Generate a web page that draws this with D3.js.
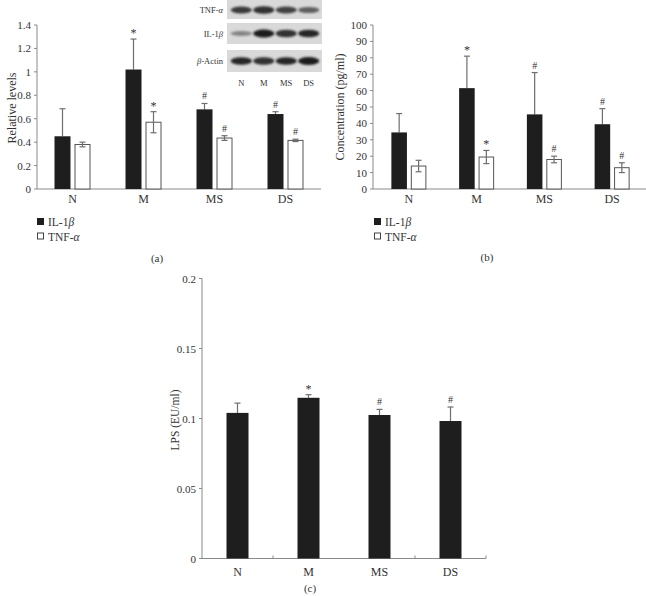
<!DOCTYPE html>
<html><head><meta charset="utf-8">
<script src="https://cdn.jsdelivr.net/npm/d3@7"></script>
<style>
body{margin:0;background:#fff;}
svg{display:block;}
text{font-family:"Liberation Serif","DejaVu Serif",serif;fill:#333;}
</style></head>
<body><svg id="c" width="646" height="596"></svg>
<script>
// ---------- data ----------
const categories = ["N","M","MS","DS"];
const seriesNames = ["IL-1β","TNF-α"];
// panel (a): relative levels (western blot)
const aIL1b = [0.45, 1.02, 0.68, 0.64];
const aIL1bErr = [0.235, 0.26, 0.05, 0.02];
const aTNF = [0.38, 0.57, 0.435, 0.415];
const aTNFErr = [0.02, 0.09, 0.02, 0.01];
const aIL1bMark = ["", "*", "#", "#"];
const aTNFMark = ["", "*", "#", "#"];
const aTicks = [0,0.2,0.4,0.6,0.8,1,1.2,1.4];
// panel (b): concentration (pg/ml)
const bIL1b = [34.5, 61.5, 45.5, 39.5];
const bIL1bErr = [11.5, 19.5, 25.5, 9.5];
const bTNF = [14, 19.5, 18, 13];
const bTNFErr = [3.5, 4, 2, 3];
const bIL1bMark = ["", "*", "#", "#"];
const bTNFMark = ["", "*", "#", "#"];
const bTicks = [0,10,20,30,40,50,60,70,80,90,100];
// panel (c): LPS (EU/ml)
const cLPS = [0.104, 0.1148, 0.1025, 0.0982];
const cLPSErr = [0.007, 0.0022, 0.004, 0.010];
const cMark = ["", "*", "#", "#"];
const cTicks = [0,0.05,0.1,0.15,0.2];
// western blot inset (relative band intensity / thickness)
const blotRows = ["TNF-α","IL-1β","β-Actin"];
const blotTNF = [0.85, 0.9, 0.8, 0.65];
const blotIL1b = [0.45, 1.0, 0.9, 0.95];
const blotActin = [0.95, 0.9, 0.95, 1.0];

const svg = d3.select("#c");
const AX = "#8a8a8a", ERR = "#6e6e6e", BAR = "#1e1e1e";

function greek(sel, name){
  const m = name.match(/^(.*?)([αβ])(.*)$/);
  if(!m){ sel.text(name); return; }
  if(m[1]) sel.append("tspan").text(m[1]);
  sel.append("tspan").attr("font-style","italic").text(m[2]);
  if(m[3]) sel.append("tspan").text(m[3]);
}

function yAxis(g, y, ticks, x0, fmt){
  g.append("line").attr("x1",x0).attr("x2",x0).attr("y1",y(ticks[0])).attr("y2",y(ticks[ticks.length-1])).attr("stroke",AX);
  ticks.forEach(t=>{
    g.append("line").attr("x1",x0-3).attr("x2",x0).attr("y1",y(t)).attr("y2",y(t)).attr("stroke",AX);
    g.append("text").attr("x",x0-6).attr("y",y(t)+4).attr("text-anchor","end").attr("font-size",11).text(fmt(t));
  });
}

function errBar(g, x, yTop, yBot, cap, both){
  g.append("line").attr("x1",x).attr("x2",x).attr("y1",yTop).attr("y2",yBot).attr("stroke",ERR).attr("stroke-width",1.2);
  g.append("line").attr("x1",x-cap).attr("x2",x+cap).attr("y1",yTop).attr("y2",yTop).attr("stroke",ERR).attr("stroke-width",1.2);
  if(both) g.append("line").attr("x1",x-cap).attr("x2",x+cap).attr("y1",yBot).attr("y2",yBot).attr("stroke",ERR).attr("stroke-width",1.2);
}

function mark(g, x, y, m){
  if(!m) return;
  g.append("text").attr("x",x).attr("y",m==="*"?y+1:y-1).attr("text-anchor","middle")
    .attr("font-size",m==="*"?12:10).attr("fill","#444").text(m);
}

function groupedPanel(opt){
  const g = svg.append("g");
  const x = d3.scaleBand().domain(categories).range(opt.xr).padding(0);
  const inner = d3.scaleBand().domain(seriesNames).range([-opt.gw/2, opt.gw/2]).paddingInner(0.2);
  const y = d3.scaleLinear().domain([0, opt.max]).range([opt.y0, opt.y1]);
  yAxis(g, y, opt.ticks, opt.axX, d=>String(d));
  g.append("line").attr("x1",opt.axX).attr("x2",opt.axEnd).attr("y1",opt.y0).attr("y2",opt.y0).attr("stroke",AX);
  const series = [
    {name:seriesNames[0], v:opt.s1, e:opt.e1, m:opt.m1, fill:BAR},
    {name:seriesNames[1], v:opt.s2, e:opt.e2, m:opt.m2, fill:"#fff"}
  ];
  series.forEach(s=>{
    categories.forEach((c,i)=>{
      const cx = x(c)+x.bandwidth()/2;
      const bx = cx + inner(s.name);
      const bw = inner.bandwidth();
      const mid = bx + bw/2;
      const top = y(s.v[i]+s.e[i]), bot = y(s.v[i]-s.e[i]);
      if(s.fill===BAR){
        errBar(g, mid, top, y(s.v[i]), 3, false);
        g.append("rect").attr("x",bx).attr("y",y(s.v[i])).attr("width",bw).attr("height",opt.y0-y(s.v[i])).attr("fill",BAR);
      } else {
        g.append("rect").attr("x",bx+0.5).attr("y",y(s.v[i])).attr("width",bw-1).attr("height",opt.y0-y(s.v[i])).attr("fill","#fff").attr("stroke","#555").attr("stroke-width",1);
        errBar(g, mid, top, bot, 3, true);
      }
      mark(g, mid, top-3, s.m[i]);
    });
  });
  categories.forEach(c=>{
    g.append("text").attr("x",x(c)+x.bandwidth()/2).attr("y",opt.y0+14).attr("text-anchor","middle").attr("font-size",12).text(c);
  });
  g.append("text").attr("transform",`translate(${opt.titleX},${opt.titleY}) rotate(-90)`).attr("text-anchor","middle").attr("font-size",12).text(opt.title);
  series.forEach((s,k)=>{
    const ly = opt.legY + k*14.5;
    g.append("rect").attr("x",opt.legX+0.5).attr("y",ly-3.5).attr("width",6).attr("height",6).attr("fill",s.fill).attr("stroke",s.fill===BAR?BAR:"#444").attr("stroke-width",1);
    const t = g.append("text").attr("x",opt.legX+11).attr("y",ly+4).attr("font-size",11.5);
    greek(t, s.name);
  });
  g.append("text").attr("x",opt.lblX).attr("y",opt.lblY).attr("text-anchor","middle").attr("font-size",11).text(opt.lbl);
}

groupedPanel({xr:[37,321], gw:36, axX:37, axEnd:321, y0:189, y1:25, max:1.4, ticks:aTicks,
  s1:aIL1b, e1:aIL1bErr, m1:aIL1bMark, s2:aTNF, e2:aTNFErr, m2:aTNFMark,
  title:"Relative levels", titleX:16, titleY:108, legX:37, legY:222, lbl:"(a)", lblX:157, lblY:262});

groupedPanel({xr:[375,646], gw:35, axX:373, axEnd:646, y0:189, y1:25, max:100, ticks:bTicks,
  s1:bIL1b, e1:bIL1bErr, m1:bIL1bMark, s2:bTNF, e2:bTNFErr, m2:bTNFMark,
  title:"Concentration (pg/ml)", titleX:344, titleY:107, legX:374, legY:222, lbl:"(b)", lblX:487, lblY:261});

// ---------- panel (c) ----------
(function(){
  const g = svg.append("g");
  const x = d3.scaleBand().domain(categories).range([202,486]).paddingInner(0.69).paddingOuter(0.345);
  const xb = d3.scaleBand().domain(categories).range([202,486]);
  const y = d3.scaleLinear().domain([0,0.2]).range([558.5,278.5]);
  yAxis(g, y, cTicks, 202, d=>String(d));
  g.append("line").attr("x1",202).attr("x2",486).attr("y1",y(0)).attr("y2",y(0)).attr("stroke",AX);
  categories.forEach((c,i)=>{
    if(i>0 && i!==2) g.append("line").attr("x1",xb(c)).attr("x2",xb(c)).attr("y1",y(0)).attr("y2",y(0)-3).attr("stroke",AX);
  });
  g.append("line").attr("x1",486).attr("x2",486).attr("y1",y(0)).attr("y2",y(0)-3).attr("stroke",AX);
  categories.forEach((c,i)=>{
    const mid = x(c)+x.bandwidth()/2;
    const top = y(cLPS[i]+cLPSErr[i]);
    errBar(g, mid, top, y(cLPS[i]), 3, false);
    g.append("rect").attr("x",x(c)).attr("y",y(cLPS[i])).attr("width",x.bandwidth()).attr("height",y(0)-y(cLPS[i])).attr("fill",BAR);
    mark(g, mid, top-3, cMark[i]);
    g.append("text").attr("x",mid).attr("y",y(0)+17).attr("text-anchor","middle").attr("font-size",12).text(c);
  });
  g.append("text").attr("transform","translate(179,420) rotate(-90)").attr("text-anchor","middle").attr("font-size",11.5).text("LPS (EU/ml)");
  g.append("text").attr("x",310).attr("y",592).attr("text-anchor","middle").attr("font-size",11).text("(c)");
})();

// ---------- western blot inset ----------
(function(){
  const g = svg.append("g");
  const defs = svg.append("defs");
  defs.append("filter").attr("id","blur").attr("x","-20%").attr("y","-100%").attr("width","140%").attr("height","300%")
    .append("feGaussianBlur").attr("stdDeviation",1.1);
  const lx = d3.scaleBand().domain(categories).range([229,321]).padding(0.1);
  const shade = v => { const k = Math.round(215 - v*185); return d3.rgb(k,k,k).toString(); };
  const rows = [{name:blotRows[0], y0:0, y1:19, v:blotTNF, yc:10},
                {name:blotRows[1], y0:23, y1:44, v:blotIL1b, yc:33.5},
                {name:blotRows[2], y0:50, y1:72, v:blotActin, yc:61}];
  rows.forEach(r=>{
    g.append("rect").attr("x",227).attr("y",r.y0).attr("width",95).attr("height",r.y1-r.y0).attr("fill","#d9d9d9");
    r.v.forEach((v,i)=>{
      const c = categories[i];
      g.append("ellipse").attr("cx",lx(c)+lx.bandwidth()/2).attr("cy",r.yc).attr("rx",lx.bandwidth()/2+0.5).attr("ry",1.2+2.8*v)
        .attr("fill",shade(v)).attr("filter","url(#blur)");
    });
    const t = g.append("text").attr("x",223).attr("y",r.yc+3).attr("text-anchor","end").attr("font-size",8.5);
    greek(t, r.name);
  });
  categories.forEach(c=>{
    g.append("text").attr("x",lx(c)+lx.bandwidth()/2).attr("y",86).attr("text-anchor","middle").attr("font-size",8.5).text(c);
  });
})();
</script></body></html>
